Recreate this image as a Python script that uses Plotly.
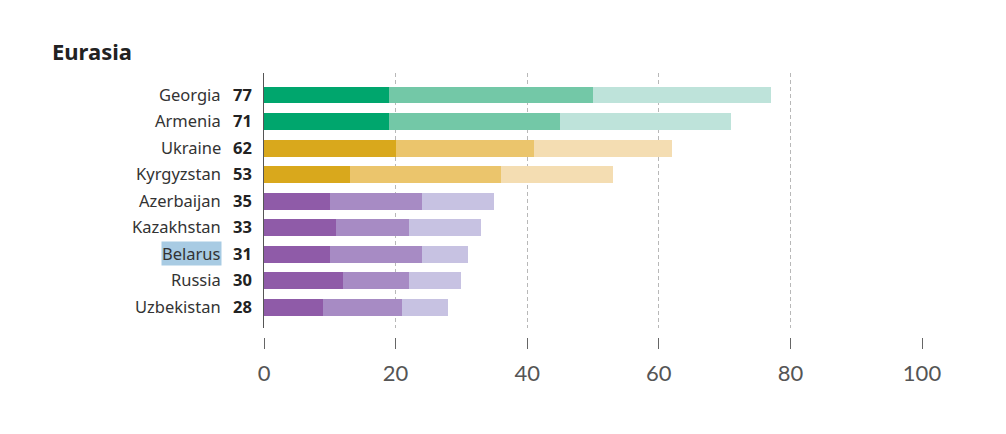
import plotly.graph_objects as go

countries = ["Georgia", "Armenia", "Ukraine", "Kyrgyzstan", "Azerbaijan",
             "Kazakhstan", "Belarus", "Russia", "Uzbekistan"]
segment_1 = [19, 19, 20, 13, 10, 11, 10, 12, 9]
segment_2 = [31, 26, 21, 23, 14, 11, 14, 10, 12]
segment_3 = [27, 26, 21, 17, 11, 11, 7, 8, 7]
totals = [77, 71, 62, 53, 35, 33, 31, 30, 28]
groups = ["green", "green", "gold", "gold", "purple", "purple", "purple", "purple", "purple"]
x_ticks = [0, 20, 40, 60, 80, 100]

palette = {
    "green": ["#00a66d", "#73c8a7", "#bee3da"],
    "gold": ["#d9a81c", "#ebc56c", "#f4ddb2"],
    "purple": ["#8f5ba8", "#a78bc4", "#c7c2e2"],
}

fig = go.Figure()
for i, seg in enumerate([segment_1, segment_2, segment_3]):
    fig.add_trace(go.Bar(
        y=countries, x=seg, orientation="h",
        marker=dict(color=[palette[g][i] for g in groups], line=dict(width=0)),
        width=0.64, showlegend=False, hoverinfo="skip",
    ))

label_font = dict(family="Noto Sans, Open Sans, sans-serif", size=16.5, color="#333333")
for c, t in zip(countries, totals):
    fig.add_annotation(
        x=0, y=c, xref="x", yref="y", text=c, showarrow=False,
        xanchor="right", yanchor="middle", xshift=-42, yshift=1, font=label_font,
        bgcolor="#a8cbe3" if c == "Belarus" else None, borderpad=0,
    )
    fig.add_annotation(
        x=0, y=c, xref="x", yref="y", text=f"<b>{t}</b>", showarrow=False,
        xanchor="right", yanchor="middle", xshift=-10, yshift=1,
        font=dict(family="Noto Sans, Open Sans, sans-serif", size=16.5, color="#222222"),
    )

fig.update_layout(
    barmode="stack",
    width=998, height=426,
    margin=dict(l=256, r=84, t=65, b=97),
    paper_bgcolor="white", plot_bgcolor="white",
    title=dict(text="<b>Eurasia</b>", xref="container", yref="container",
               x=44 / 998, y=1 - 44 / 426, xanchor="left", yanchor="middle",
               font=dict(family="Noto Sans, Open Sans, sans-serif", size=22, color="#222222")),
    xaxis=dict(range=[0, 100], tickvals=x_ticks, ticktext=[str(v) for v in x_ticks],
               anchor="free", position=0,
               ticks="outside", ticklen=11, tickcolor="#666666", tickwidth=1,
               showline=False, zeroline=False,
               showgrid=True, gridcolor="#b8b8b8", griddash="4px,3px", gridwidth=1,
               ticklabelstandoff=6,
               tickfont=dict(family="Lato, sans-serif", size=22, color="#555555")),
    yaxis=dict(domain=[0.034, 1], categoryorder="array", categoryarray=countries,
               range=[8.79, -0.83], showticklabels=False, ticks="",
               showline=True, linecolor="#555555", linewidth=1,
               showgrid=False, zeroline=False),
)

fig.write_html("out.html")
